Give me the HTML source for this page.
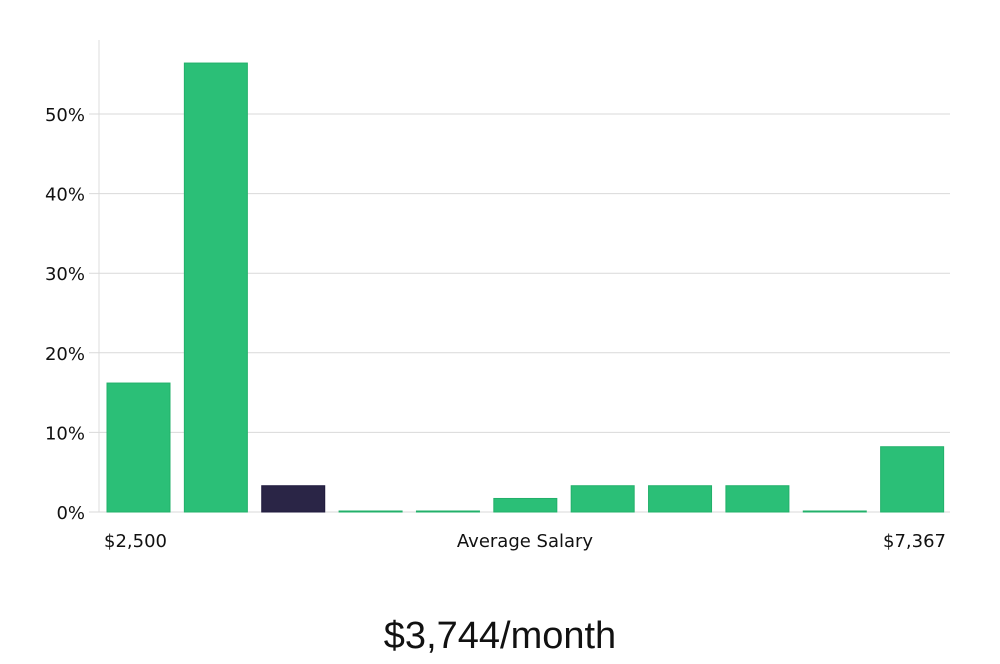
<!DOCTYPE html>
<html><head><meta charset="utf-8"><style>
body{margin:0;background:#fff;width:1000px;height:660px;overflow:hidden;font-family:"DejaVu Sans","Liberation Sans",sans-serif}
</style></head><body>
<svg id="chart" width="1000" height="660" xmlns="http://www.w3.org/2000/svg">
<g id="grid"></g><g id="bars"></g><g id="labels"></g>
<text x="104" y="547" font-size="18" fill="#111">$2,500</text>
<text x="525" y="547" font-size="18" fill="#111" text-anchor="middle">Average Salary</text>
<text x="946" y="547" font-size="18" fill="#111" text-anchor="end">$7,367</text>
<text x="500" y="648" font-size="38" fill="#111" text-anchor="middle" font-family="'Liberation Sans',sans-serif">$3,744/month</text>
</svg>
<script>
const values=[16.2,56.4,3.3,0.1,0.1,1.7,3.3,3.3,3.3,0.1,8.2];
const highlight=[0,0,1,0,0,0,0,0,0,0,0];
const ticks=[0,10,20,30,40,50];
const ns="http://www.w3.org/2000/svg";
const x0=99,x1=950,y0=512,pxPer=7.96;
const y=v=>y0-v*pxPer;
const pitch=(x1-x0)/values.length,bw=63;
const grid=document.getElementById('grid'),bars=document.getElementById('bars');
const ax=document.createElementNS(ns,'line');


ax.setAttribute('x1',x0);ax.setAttribute('x2',x0);ax.setAttribute('y1',40);ax.setAttribute('y2',y0);ax.setAttribute('stroke','#ddd');
grid.appendChild(ax);
ticks.forEach(t=>{
 const l=document.createElementNS(ns,'line');
 
 
 l.setAttribute('x1',89);l.setAttribute('x2',x1);l.setAttribute('y1',y(t));l.setAttribute('y2',y(t));l.setAttribute('stroke','#d9d9d9');
 grid.appendChild(l);
 const tx=document.createElementNS(ns,'text');
 
 
 tx.setAttribute('x',85);tx.setAttribute('y',y(t)+7);tx.setAttribute('text-anchor','end');tx.setAttribute('font-size','18');tx.setAttribute('fill','#111');
 tx.textContent=t+'%';grid.appendChild(tx);
});
values.forEach((v,i)=>{
 const r=document.createElementNS(ns,'rect');
 
 
 const h=Math.max(v*pxPer,1);
 r.setAttribute('x',x0+8+i*pitch);r.setAttribute('y',y0-h);r.setAttribute('width',bw);r.setAttribute('height',h);
 r.setAttribute('fill',highlight[i]?'#2a2546':'#2bbf77');
 r.setAttribute('stroke',highlight[i]?'#1f1a3d':'#22b06a');r.setAttribute('stroke-width','1');
 bars.appendChild(r);
});
</script>
</body></html>
